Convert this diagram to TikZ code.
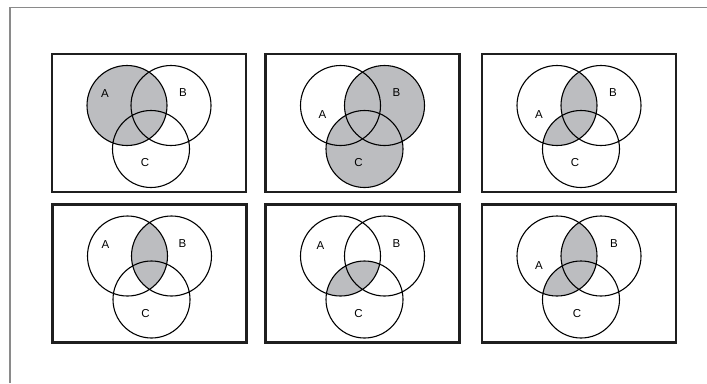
\documentclass[tikz,border=0pt]{standalone}
\usepackage{fontspec}
\setmainfont{Liberation Sans}
\definecolor{vennfill}{RGB}{188,189,192}
\definecolor{framegray}{RGB}{138,138,138}

\begin{document}
\begin{tikzpicture}[x=1pt, y=-1pt,
    panel/.style={line width=2.4pt, draw=black!88},
    ring/.style={line width=1.1pt},
    shaded/.style={fill=vennfill},
    lbl/.style={font=\fontsize{11.5}{13}\selectfont, inner sep=0pt}]
    \useasboundingbox (0,0) rectangle (707,383);

    % Outer frame
    \draw[framegray, line width=1.4pt] (10,383) -- (10,7.5) -- (707,7.5);

    % Panel 1: A
    \begin{scope}[shift={(149,123)}]
        \coordinate (A1) at (-22,-17.5);
        \coordinate (B1) at (22,-17.5);
        \coordinate (C1) at (2,26);
        \fill[shaded] (A1) circle[radius=40pt];
        \draw[ring] (A1) circle[radius=40pt] (B1) circle[radius=40pt] (C1) circle[radius=38.5pt];
        \draw[panel] (-97,-69) rectangle (97,69);
        \node[lbl] (a1) at (-44,-29) {A};
        \node[lbl] (b1) at (34,-30) {B};
        \node[lbl] (c1) at (-4,40) {C};
    \end{scope}

    % Panel 2: B or C
    \begin{scope}[shift={(362.5,123)}]
        \coordinate (A2) at (-22,-17.5);
        \coordinate (B2) at (22,-17.5);
        \coordinate (C2) at (2,26);
        \fill[shaded] (B2) circle[radius=40pt] (C2) circle[radius=38.5pt];
        \draw[ring] (A2) circle[radius=40pt] (B2) circle[radius=40pt] (C2) circle[radius=38.5pt];
        \draw[panel] (-97,-69) rectangle (97,69);
        \node[lbl] (a2) at (-40,-8) {A};
        \node[lbl] (b2) at (34,-30) {B};
        \node[lbl] (c2) at (-4,40) {C};
    \end{scope}

    % Panel 3: A and (B or C)
    \begin{scope}[shift={(579,123)}]
        \coordinate (A3) at (-22,-17.5);
        \coordinate (B3) at (22,-17.5);
        \coordinate (C3) at (2,26);
        \begin{scope}
            \clip (A3) circle[radius=40pt];
            \fill[shaded] (B3) circle[radius=40pt] (C3) circle[radius=38.5pt];
        \end{scope}
        \draw[ring] (A3) circle[radius=40pt] (B3) circle[radius=40pt] (C3) circle[radius=38.5pt];
        \draw[panel] (-97,-69) rectangle (97,69);
        \node[lbl] (a3) at (-40,-8) {A};
        \node[lbl] (b3) at (34,-30) {B};
        \node[lbl] (c3) at (-4,40) {C};
    \end{scope}

    % Panel 4: A and B
    \begin{scope}[shift={(149.5,273.5)}]
        \coordinate (A4) at (-22,-17.5);
        \coordinate (B4) at (22,-17.5);
        \coordinate (C4) at (2,26);
        \begin{scope}
            \clip (A4) circle[radius=40pt];
            \fill[shaded] (B4) circle[radius=40pt];
        \end{scope}
        \draw[ring] (A4) circle[radius=40pt] (B4) circle[radius=40pt] (C4) circle[radius=38.5pt];
        \draw[panel] (-97,-69) rectangle (97,69);
        \node[lbl] (a4) at (-44,-29) {A};
        \node[lbl] (b4) at (33,-30) {B};
        \node[lbl] (c4) at (-4,40) {C};
    \end{scope}

    % Panel 5: A and C
    \begin{scope}[shift={(362.5,273.5)}]
        \coordinate (A5) at (-22,-17.5);
        \coordinate (B5) at (22,-17.5);
        \coordinate (C5) at (2,26);
        \begin{scope}
            \clip (A5) circle[radius=40pt];
            \fill[shaded] (C5) circle[radius=38.5pt];
        \end{scope}
        \draw[ring] (A5) circle[radius=40pt] (B5) circle[radius=40pt] (C5) circle[radius=38.5pt];
        \draw[panel] (-97,-69) rectangle (97,69);
        \node[lbl] (a5) at (-42,-28) {A};
        \node[lbl] (b5) at (34,-30) {B};
        \node[lbl] (c5) at (-4,40) {C};
    \end{scope}

    % Panel 6: A and (B or C)
    \begin{scope}[shift={(579,273.5)}]
        \coordinate (A6) at (-22,-17.5);
        \coordinate (B6) at (22,-17.5);
        \coordinate (C6) at (2,26);
        \begin{scope}
            \clip (A6) circle[radius=40pt];
            \fill[shaded] (B6) circle[radius=40pt] (C6) circle[radius=38.5pt];
        \end{scope}
        \draw[ring] (A6) circle[radius=40pt] (B6) circle[radius=40pt] (C6) circle[radius=38.5pt];
        \draw[panel] (-97,-69) rectangle (97,69);
        \node[lbl] (a6) at (-40,-8) {A};
        \node[lbl] (b6) at (35,-30) {B};
        \node[lbl] (c6) at (-2,40) {C};
    \end{scope}
\end{tikzpicture}
\end{document}
